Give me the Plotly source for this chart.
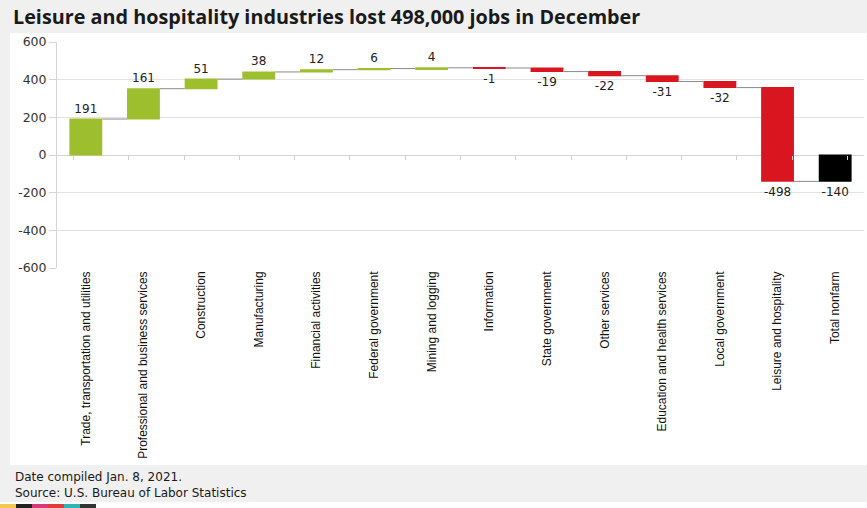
import plotly.graph_objects as go

# Monthly change in employment by industry, December 2020 (thousands)
industries = [
    "Trade, transportation and utilities",
    "Professional and business services",
    "Construction",
    "Manufacturing",
    "Financial activities",
    "Federal government",
    "Mining and logging",
    "Information",
    "State government",
    "Other services",
    "Education and health services",
    "Local government",
    "Leisure and hospitality",
    "Total nonfarm",
]
changes = [191, 161, 51, 38, 12, 6, 4, -1, -19, -22, -31, -32, -498, -140]
measures = ["relative"] * 13 + ["total"]
y_ticks = [600, 400, 200, 0, -200, -400, -600]

TITLE = "Leisure and hospitality industries lost 498,000 jobs in December"
FOOTER = ["Date compiled Jan. 8, 2021.", "Source: U.S. Bureau of Labor Statistics"]

GREEN = "#9dbf2d"
RED = "#d9161f"
BLACK = "#000000"
BAND = "#f0f0f0"

# page geometry (pixels)
W, H = 867, 508
L, R, T, B = 57, 3, 42, 240
PW, PH = W - L - R, H - T - B


def fx(px):
    return (px - L) / PW


def fy(py):
    return (H - B - py) / PH


fig = go.Figure()

fig.add_trace(go.Waterfall(
    x=industries,
    y=changes,
    measure=measures,
    text=[str(v) for v in changes],
    textposition="outside",
    textfont=dict(family="DejaVu Sans", size=12, color="#222222"),
    increasing=dict(marker=dict(color=GREEN)),
    decreasing=dict(marker=dict(color=RED)),
    totals=dict(marker=dict(color=BLACK)),
    connector=dict(line=dict(color="#8a8a8a", width=1)),
    cliponaxis=False,
    hoverinfo="skip",
))

# invisible companion trace that carries the category ticks on the zero line
fig.add_trace(go.Scatter(
    x=industries, y=[0] * len(industries), xaxis="x2",
    mode="markers", marker=dict(opacity=0), hoverinfo="skip", showlegend=False,
))

shapes = [
    # white chart panel over the grey page
    dict(type="rect", xref="paper", yref="paper", layer="below",
         x0=fx(10), x1=fx(W), y0=fy(465), y1=fy(33),
         fillcolor="white", line=dict(width=0)),
    # white strip under the footer
    dict(type="rect", xref="paper", yref="paper", layer="below",
         x0=fx(0), x1=fx(W), y0=fy(H), y1=fy(502),
         fillcolor="white", line=dict(width=0)),
]
strip_colors = ["#f2c94c", "#222222", "#d63a7a", "#e23b3b", "#2bb5b8", "#333333"]
for i, c in enumerate(strip_colors):
    shapes.append(dict(type="rect", xref="paper", yref="paper", layer="above",
                       x0=fx(i * 16), x1=fx(i * 16 + 16), y0=fy(H), y1=fy(504),
                       fillcolor=c, line=dict(width=0)))

annotations = [
    dict(text="<br>".join(FOOTER), xref="paper", yref="paper", x=fx(13), y=fy(485),
         xanchor="left", yanchor="middle", align="left", showarrow=False,
         font=dict(family="DejaVu Sans", size=12, color="#1a1a1a")),
]

fig.update_layout(
    width=W, height=H,
    margin=dict(l=L, r=R, t=T, b=B),
    paper_bgcolor=BAND,
    plot_bgcolor="white",
    showlegend=False,
    waterfallgap=0.43,
    title=dict(text="<b>" + TITLE + "</b>", xref="container", yref="container",
               x=13 / W, y=1 - 17 / H, xanchor="left", yanchor="middle",
               font=dict(family="Open Sans, Liberation Sans", size=19.8, color="#1a1a1a")),
    xaxis=dict(
        type="category", categoryorder="array", categoryarray=industries,
        tickangle=-90, ticks="", showline=False, showgrid=False,
        tickfont=dict(family="Liberation Sans", size=12, color="#111111"),
    ),
    xaxis2=dict(
        type="category", categoryorder="array", categoryarray=industries,
        overlaying="x", anchor="free", position=0.5,
        showticklabels=False, showgrid=False, showline=False,
        ticks="outside", tickson="boundaries", ticklen=4, tickcolor="#d0d0d0",
    ),
    yaxis=dict(
        range=[-600, 600], tickvals=y_ticks, ticktext=[str(v) for v in y_ticks],
        showgrid=True, gridcolor="#e2e2e2", gridwidth=1,
        zeroline=True, zerolinecolor="#d6d6d6", zerolinewidth=1,
        showline=True, linecolor="#d6d6d6", linewidth=1,
        ticks="outside", ticklen=7, tickcolor="#d6d6d6",
        tickfont=dict(family="DejaVu Sans", size=12.5, color="#333333"),
    ),
    shapes=shapes,
    annotations=annotations,
)

fig.write_html("out.html")
